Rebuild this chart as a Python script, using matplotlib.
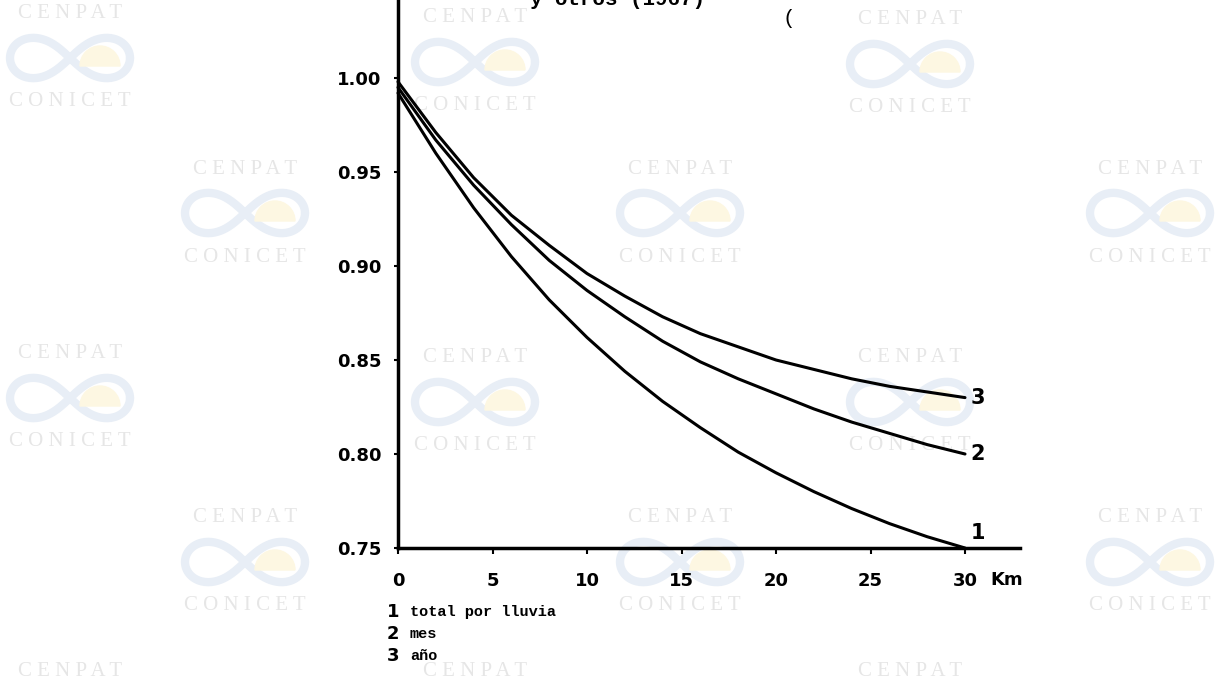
import numpy as np
import matplotlib.pyplot as plt
from matplotlib.patches import Wedge

# distancia entre estaciones (km) y coeficiente de correlacion
distancia = [0, 2, 4, 6, 8, 10, 12, 14, 16, 18, 20, 22, 24, 26, 28, 30]
total_lluvia = [0.992, 0.960, 0.931, 0.905, 0.882, 0.862, 0.844, 0.828,
                0.814, 0.801, 0.790, 0.780, 0.771, 0.763, 0.756, 0.750]
mes = [0.995, 0.967, 0.943, 0.922, 0.903, 0.887, 0.873, 0.860,
       0.849, 0.840, 0.832, 0.824, 0.817, 0.811, 0.805, 0.800]
anio = [0.998, 0.971, 0.947, 0.927, 0.911, 0.896, 0.884, 0.873,
        0.864, 0.857, 0.850, 0.845, 0.840, 0.836, 0.833, 0.830]

curvas = [("1", total_lluvia), ("2", mes), ("3", anio)]
leyenda = ["total por lluvia", "mes", "año"]
yticks = [0.75, 0.80, 0.85, 0.90, 0.95, 1.00]
xticks = [0, 5, 10, 15, 20, 25, 30]

W, H = 1232, 686
SANS = ["Liberation Sans Narrow", "DejaVu Sans"]
fig = plt.figure(figsize=(W / 100, H / 100), dpi=100)

# capa de fondo con las marcas de agua (coordenadas en pixeles)
bg = fig.add_axes([0, 0, 1, 1], zorder=0)
bg.set_xlim(0, W)
bg.set_ylim(H, 0)
bg.axis("off")

def marca(cx, cy, logo=True):
    if logo:
        t = np.linspace(0, 2 * np.pi, 200)
        a = 60
        d = 1 + np.sin(t) ** 2
        bg.plot(cx + a * np.cos(t) / d, cy + 0.95 * a * np.sin(t) * np.cos(t) / d,
                color="#e8eef6", lw=6, solid_capstyle="round", zorder=1)
        bg.add_patch(Wedge((cx + 30, cy + 8), 20, 180, 360, color="#fdf7e2", zorder=1))
        bg.text(cx, cy + 44, "C O N I C E T", ha="center", va="center", fontsize=15,
                family="Liberation Serif", color="#e6e6e6", zorder=1)
    bg.text(cx, cy - 44, "C E N P A T", ha="center", va="center", fontsize=15,
            family="Liberation Serif", color="#e6e6e6", zorder=1)

for cx, cy in [(70, 58), (70, 398), (245, 213), (245, 562),
               (475, 62), (475, 402), (680, 213), (680, 562),
               (910, 64), (910, 402), (1150, 213), (1150, 562)]:
    marca(cx, cy)
for cx in (70, 475, 910):
    marca(cx, 716, logo=False)

# titulo cortado en el borde superior
bg.text(530, 5, "y otros (1967)", ha="left", va="baseline", fontsize=15,
        family="Liberation Mono", weight="bold", color="black", zorder=2)
bg.text(782, 24, "(", ha="left", va="baseline", fontsize=15,
        family="Liberation Mono", color="black", zorder=2)

# grafico principal
ax = fig.add_axes([398 / W, 1 - 548 / H, (1020 - 398) / W, 548 / H], zorder=2)
ax.patch.set_alpha(0)
ax.set_xlim(0, 622 / 18.9)
ax.set_ylim(0.75, 0.75 + 548 / 1880)

for etiqueta, valores in curvas:
    ax.plot(distancia, valores, color="black", lw=2.2, solid_capstyle="round", clip_on=False)
    dy = 0.008 if etiqueta == "1" else 0
    ax.text(30.3, valores[-1] + dy, etiqueta, ha="left", va="center", fontsize=15,
            weight="bold", family=SANS)

for s in ["top", "right"]:
    ax.spines[s].set_visible(False)
for s in ["left", "bottom"]:
    ax.spines[s].set_linewidth(2.5)

ax.set_yticks(yticks)
ax.set_yticklabels([f"{v:.2f}" for v in yticks])
ax.set_xticks(xticks)
ax.tick_params(axis="y", length=3, width=1.5, pad=9, labelsize=13)
ax.tick_params(axis="x", length=4, width=1.5, pad=13, labelsize=13)
for lab in ax.get_xticklabels() + ax.get_yticklabels():
    lab.set_fontweight("bold")
    lab.set_family(SANS)

bg.text(990, 580, "Km", ha="left", va="center", fontsize=13, weight="bold",
        family=SANS, zorder=2)

# leyenda numerada debajo del eje
for i, txt in enumerate(leyenda):
    y = 612 + 22 * i
    bg.text(387, y, str(i + 1), ha="left", va="center", fontsize=13, weight="bold",
            family=SANS, zorder=2)
    bg.text(410, y, txt, ha="left", va="center", fontsize=11, weight="bold",
            family="Liberation Mono", zorder=2)

fig.savefig("out.png", dpi=100)
